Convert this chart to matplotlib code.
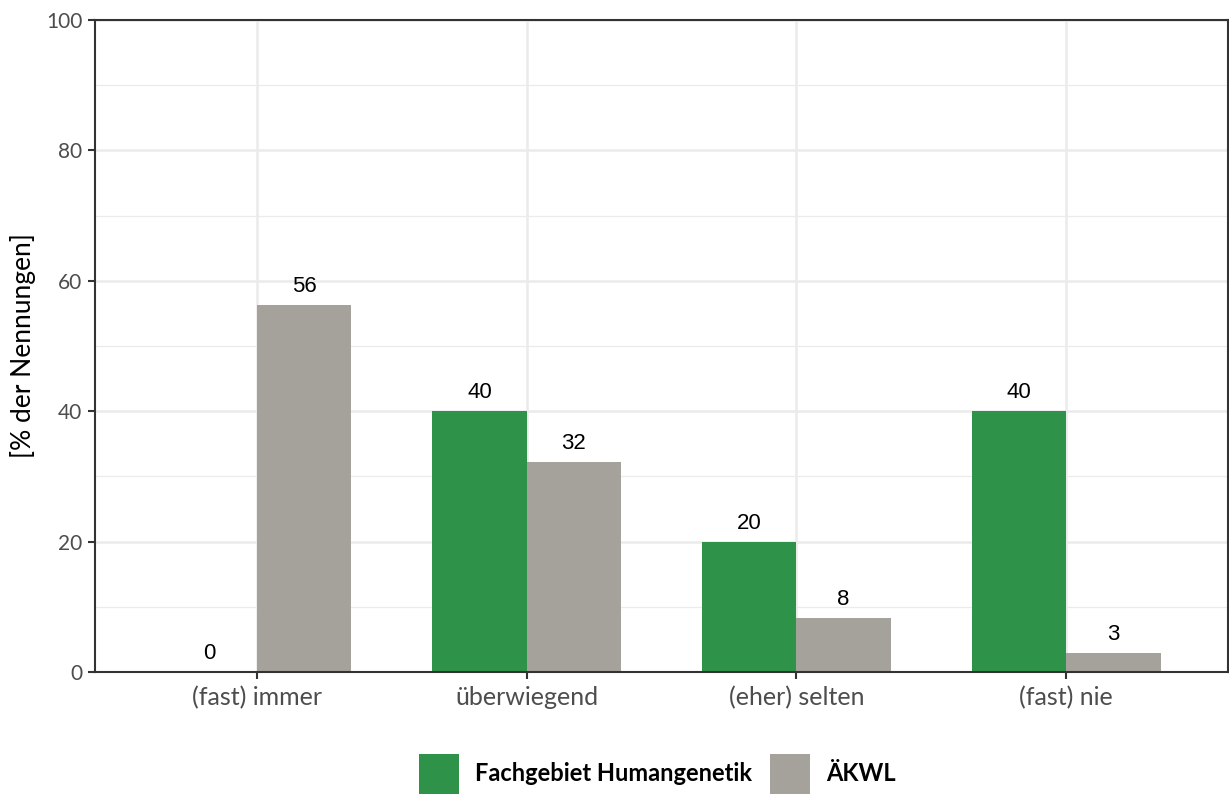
import numpy as np
import matplotlib.pyplot as plt
from matplotlib.patches import Patch

categories = ["(fast) immer", "überwiegend", "(eher) selten", "(fast) nie"]
series_names = ["Fachgebiet Humangenetik", "ÄKWL"]
humangenetik = [0, 40, 20, 40]
aekwl = [56.3, 32.2, 8.3, 2.9]
colors = ["#2E9349", "#A5A29B"]

fig = plt.figure(figsize=(12.29, 7.99), dpi=100)
ax = fig.add_axes([95 / 1229, 127 / 799, 1133 / 1229, 652 / 799])

x = np.arange(1, len(categories) + 1)
w = 0.35
for k, (vals, col) in enumerate(zip([humangenetik, aekwl], colors)):
    pos = x + (k - 0.5) * w
    ax.bar(pos, vals, width=w, color=col, zorder=2)
    for p, v in zip(pos, vals):
        ax.text(p, v + 1.2, "%d" % round(v), ha="center", va="bottom",
                fontsize=16, family="Liberation Sans", color="black", zorder=3)

ax.set_xlim(0.4, 4.6)
ax.set_ylim(0, 100)
ax.set_yticks([0, 20, 40, 60, 80, 100])
ax.set_yticks([10, 30, 50, 70, 90], minor=True)
ax.set_xticks(x)
ax.set_xticklabels(categories)
ax.grid(True, which="major", color="#EBEBEB", lw=1.8, zorder=0)
ax.grid(True, which="minor", axis="y", color="#EBEBEB", lw=0.9, zorder=0)
ax.tick_params(which="minor", length=0)
ax.tick_params(which="major", length=5, width=1.5, color="#333333",
               labelcolor="#4D4D4D")
ax.tick_params(axis="x", labelsize=18, pad=5)
ax.tick_params(axis="y", labelsize=15, pad=4)
for lab in ax.get_xticklabels() + ax.get_yticklabels():
    lab.set_family("Lato")
for s in ax.spines.values():
    s.set_color("#333333")
    s.set_linewidth(1.5)

ax.set_ylabel("[% der Nennungen]", fontsize=19, family="Lato", labelpad=7)

handles = [Patch(facecolor=c, label=n) for c, n in zip(colors, series_names)]
fig.legend(handles=handles, loc="lower center", bbox_to_anchor=(0.535, -0.02), ncol=2,
           frameon=False, handlelength=1.7, handleheight=2.2, columnspacing=0.76,
           handletextpad=0.68, prop={"family": "Lato", "weight": "bold", "size": 17})

fig.savefig("out.png", dpi=100)
